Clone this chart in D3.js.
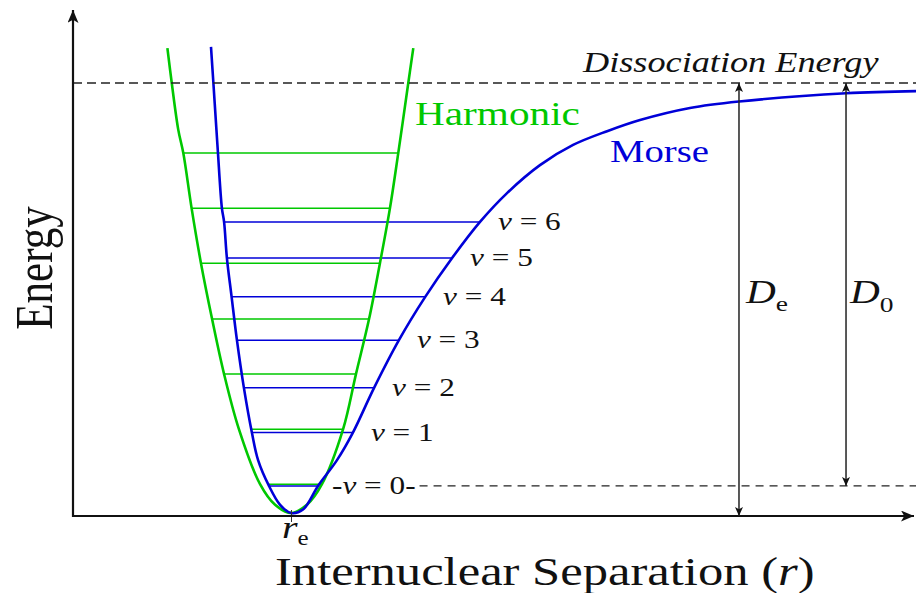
<!DOCTYPE html>
<html>
<head>
<meta charset="utf-8">
<script src="https://cdn.jsdelivr.net/npm/d3@7"></script>
<style>
  body { margin: 0; background: #fff; }
  text { font-family: 'Liberation Serif', 'Times New Roman', 'DejaVu Serif', serif; }
</style>
</head>
<body>
<script>
// r in units of r_e, E in units of the dissociation energy
const R_E = 1.0
const D_E = 1.0
const AXIS_FLOOR = -0.007
const AXIS_TOP = 1.17
const R_MAX = 3.867

const morseR = [0.633, 0.644, 0.658, 0.665, 0.683, 0.693, 0.706, 0.727, 0.752, 0.784, 0.821, 0.849, 0.899, 0.950, 1.000,
  1.055, 1.124, 1.211, 1.284, 1.381, 1.495, 1.615, 1.739, 1.867, 1.991, 2.142, 2.294, 2.450, 2.601, 2.830, 3.055, 3.546, 3.867]
const morseE = [1.084, 1.000, 0.891, 0.837, 0.709, 0.677, 0.593, 0.505, 0.402, 0.291, 0.186, 0.123, 0.063, 0.019, 0.000,
  0.008, 0.063, 0.123, 0.187, 0.291, 0.402, 0.502, 0.593, 0.677, 0.744, 0.809, 0.856, 0.888, 0.914, 0.942, 0.957, 0.976, 0.981]

const harmR = [0.433, 0.453, 0.483, 0.506, 0.544, 0.587, 0.638, 0.693, 0.761, 0.858, 0.927, 1.000,
  1.073, 1.142, 1.239, 1.298, 1.358, 1.408, 1.454, 1.492, 1.538, 1.561]
const harmE = [1.081, 1.000, 0.891, 0.837, 0.709, 0.581, 0.451, 0.323, 0.195, 0.067, 0.019, 0.000,
  0.019, 0.067, 0.195, 0.323, 0.451, 0.581, 0.709, 0.837, 1.000, 1.081]

const levels = ['0', '1', '2', '3', '4', '5', '6']
const morseLevelE     = [0.063, 0.187, 0.291, 0.402, 0.503, 0.593, 0.677]
const morseLevelLeft  = [0.899, 0.821, 0.784, 0.752, 0.727, 0.706, 0.693]
const morseLevelRight = [1.124, 1.284, 1.381, 1.495, 1.615, 1.739, 1.867]
const harmLevelE      = [0.067, 0.195, 0.323, 0.451, 0.581, 0.709, 0.837]
const harmLevelLeft   = [0.890, 0.812, 0.697, 0.638, 0.587, 0.546, 0.506]
const harmLevelRight  = [1.142, 1.239, 1.298, 1.358, 1.408, 1.454, 1.492]

const DE_R = 3.055
const D0_R = 3.546

const BLUE = '#0000d8'
const GREEN = '#00c800'
const SX = 1.25   // the source picture is stretched sideways

const W = 916, H = 593
const x = d3.scaleLinear().domain([0, R_MAX]).range([73, 916])
const y = d3.scaleLinear().domain([0, D_E]).range([513, 83])

const svg = d3.select('body').append('svg').attr('width', W).attr('height', H)

const defs = svg.append('defs')
function marker(id, len, wid) {
  defs.append('marker').attr('id', id)
    .attr('viewBox', `0 0 ${len} ${wid}`).attr('refX', len).attr('refY', wid / 2)
    .attr('markerUnits', 'userSpaceOnUse').attr('markerWidth', len).attr('markerHeight', wid)
    .attr('orient', 'auto-start-reverse')
    .append('path').attr('d', `M0,0L${len},${wid / 2}L0,${wid}L${len * 0.25},${wid / 2}Z`).attr('fill', '#111')
}
marker('axis-arrow', 13, 11)
marker('dim-arrow', 9, 8)

function stretched(px, py, size, fill) {
  return svg.append('text')
    .attr('transform', `translate(${px},${py}) scale(${SX},1)`)
    .attr('font-size', size).attr('fill', fill || '#111')
}

const y0 = y(AXIS_FLOOR)

// energy levels
const lvl = levels.map((v, i) => ({ v, i }))
svg.append('g').selectAll('line').data(lvl).join('line')
  .attr('x1', d => x(harmLevelLeft[d.i])).attr('x2', d => x(harmLevelRight[d.i]))
  .attr('y1', d => y(harmLevelE[d.i])).attr('y2', d => y(harmLevelE[d.i]))
  .attr('stroke', GREEN).attr('stroke-width', 1.5)
svg.append('g').selectAll('line').data(lvl).join('line')
  .attr('x1', d => x(morseLevelLeft[d.i])).attr('x2', d => x(morseLevelRight[d.i]))
  .attr('y1', d => y(morseLevelE[d.i])).attr('y2', d => y(morseLevelE[d.i]))
  .attr('stroke', BLUE).attr('stroke-width', 1.5)

// curves
const line = d3.line().x(d => x(d[0])).y(d => y(d[1])).curve(d3.curveCatmullRom.alpha(0.5))
svg.append('path').attr('d', line(d3.zip(harmR, harmE)))
  .attr('fill', 'none').attr('stroke', GREEN).attr('stroke-width', 2.6)
svg.append('path').attr('d', line(d3.zip(morseR, morseE)))
  .attr('fill', 'none').attr('stroke', BLUE).attr('stroke-width', 2.6)

// dissociation energy line
svg.append('line')
  .attr('x1', x(0)).attr('x2', x(R_MAX)).attr('y1', y(D_E)).attr('y2', y(D_E))
  .attr('stroke', '#222').attr('stroke-width', 1.3).attr('stroke-dasharray', '9,5')

// axes
const xAxis = svg.append('g').attr('transform', `translate(0,${y0})`)
  .call(d3.axisBottom(x).tickValues([R_E]).tickSize(6).tickFormat('').tickSizeOuter(0))
xAxis.select('.domain').remove()
xAxis.selectAll('.tick line').attr('y1', -6).attr('stroke', '#333').attr('stroke-width', 1)
svg.append('line')
  .attr('x1', x(0) - 1).attr('x2', x(R_MAX) - 2).attr('y1', y0).attr('y2', y0)
  .attr('stroke', '#111').attr('stroke-width', 2.2).attr('marker-end', 'url(#axis-arrow)')
svg.append('line')
  .attr('x1', x(0)).attr('x2', x(0)).attr('y1', y0 + 1).attr('y2', y(AXIS_TOP))
  .attr('stroke', '#111').attr('stroke-width', 2.2).attr('marker-end', 'url(#axis-arrow)')

// De and D0 arrows
svg.append('line')
  .attr('x1', x(DE_R)).attr('x2', x(DE_R)).attr('y1', y0).attr('y2', y(D_E))
  .attr('stroke', '#222').attr('stroke-width', 1.5)
  .attr('marker-start', 'url(#dim-arrow)').attr('marker-end', 'url(#dim-arrow)')
svg.append('line')
  .attr('x1', x(D0_R)).attr('x2', x(D0_R)).attr('y1', y(morseLevelE[0])).attr('y2', y(D_E))
  .attr('stroke', '#222').attr('stroke-width', 1.5)
  .attr('marker-start', 'url(#dim-arrow)').attr('marker-end', 'url(#dim-arrow)')

// level labels
lvl.forEach(d => {
  const t = stretched(x(morseLevelRight[d.i]) + (d.i === 0 ? 14 : 18), y(morseLevelE[d.i]) + 8, 25)
  if (d.i === 0) t.append('tspan').text('-')
  t.append('tspan').attr('font-style', 'italic').text('v')
  t.append('tspan').text(' = ' + d.v + (d.i === 0 ? '-' : ''))
  if (d.i === 0) {
    const b = t.node().getBBox()
    const end = x(morseLevelRight[0]) + 14 + b.width * SX
    svg.append('line')
      .attr('x1', end + 4).attr('x2', W).attr('y1', y(morseLevelE[0])).attr('y2', y(morseLevelE[0]))
      .attr('stroke', '#222').attr('stroke-width', 1.3).attr('stroke-dasharray', '8,6')
  }
})

// text labels
stretched(415, 125, 33, GREEN).text('Harmonic')
stretched(610, 162, 31, BLUE).text('Morse')
stretched(583, 72, 29).attr('font-style', 'italic').text('Dissociation Energy')

const de = stretched(x(DE_R) + 7, 303, 33)
de.append('tspan').attr('font-style', 'italic').text('D')
de.append('tspan').attr('font-size', 22).attr('dy', 8).text('e')
const d0 = stretched(x(D0_R) + 4, 303, 33)
d0.append('tspan').attr('font-style', 'italic').text('D')
d0.append('tspan').attr('font-size', 22).attr('dy', 9).text('0')

const re = stretched(x(R_E) - 9, 538, 32)
re.append('tspan').attr('font-style', 'italic').text('r')
re.append('tspan').attr('font-size', 20).attr('dy', 7).text('e')

const xl = stretched(275, 585, 40.5)
xl.append('tspan').text('Internuclear Separation (')
xl.append('tspan').attr('font-style', 'italic').text('r')
xl.append('tspan').text(')')

svg.append('text')
  .attr('transform', `translate(52,268) scale(${SX},1) rotate(-90)`)
  .attr('text-anchor', 'middle').attr('font-size', 43).attr('fill', '#111')
  .text('Energy')
</script>
</body>
</html>
